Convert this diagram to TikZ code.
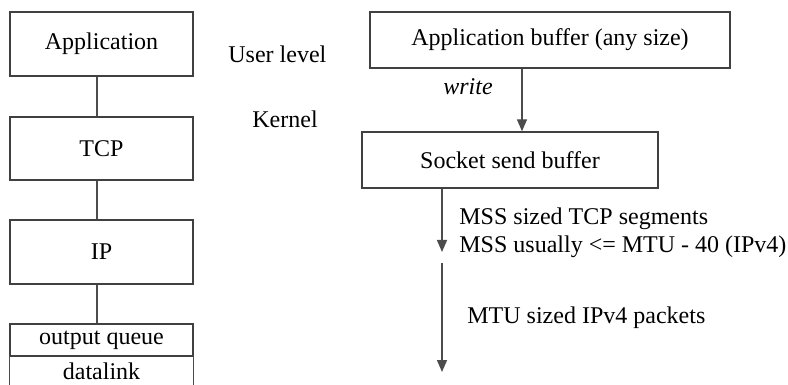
\documentclass[tikz,border=0pt]{standalone}
\usepackage{fontspec}
\setmainfont{Liberation Serif}
\usetikzlibrary{arrows.meta}
\begin{document}
\begin{tikzpicture}[x=0.5pt,y=-0.5pt,
  every node/.style={font=\fontsize{12}{14}\selectfont, inner sep=0pt, text=black},
  box/.style={draw=black!75, line width=0.7pt, minimum width=91.5pt},
  wire/.style={draw=black!70, line width=0.7pt},
  flow/.style={wire, -{Triangle[width=5pt,length=6pt]}},
  lbl/.style={anchor=base west}]
  \useasboundingbox (0,0) rectangle (788,385);

  % protocol stack on the left
  \node[box, minimum height=32pt] (app) at (101.5,44) {Application};
  \node[box, minimum height=31.5pt] (tcp) at (101.5,148.5) {TCP};
  \node[box, minimum height=32pt] (ip) at (101.5,252) {IP};
  \node[box, minimum height=16pt] (oq) at (101.5,340) {output queue};
  \node (dl) at (101.5,371) {datalink};
  \coordinate (dlbl) at (oq.south west |- 0,390);
  \coordinate (dlbr) at (oq.south east |- 0,390);
  \draw[wire, line cap=rect] (oq.south west) -- (dlbl);
  \draw[wire, line cap=rect] (oq.south east) -- (dlbr);

  \draw[wire] ([xshift=-2.25pt]app.south) -- ([xshift=-2.25pt]tcp.north);
  \draw[wire] ([xshift=-2.25pt]tcp.south) -- ([xshift=-2.25pt]ip.north);
  \draw[wire] ([xshift=-2.25pt]ip.south) -- ([xshift=-2.25pt]oq.north);

  % level labels
  \node[lbl] (user) at (228,63) {User level};
  \node[lbl] (kern) at (252,128) {Kernel};

  % buffers on the right
  \node[box, minimum width=180pt, minimum height=28pt] (appbuf) at (550,40) {Application buffer (any size)};
  \node[box, minimum width=148pt, minimum height=28pt] (sock) at (510,160) {Socket send buffer};

  \coordinate (wx) at (522,0);
  \draw[flow] (appbuf.south -| wx) -- (sock.north -| wx);
  \node[lbl] (write) at (443,95) {\itshape write};

  \coordinate (sx) at (442,0);
  \coordinate (segend) at (442,252);
  \coordinate (pktstart) at (442,263);
  \coordinate (pktend) at (442,372);
  \draw[flow] (sock.south -| sx) -- (segend);
  \draw[flow] (pktstart) -- (pktend);

  \node[lbl] (mss1) at (459,225) {MSS sized TCP segments};
  \node[lbl] (mss2) at (459,253) {MSS usually <= MTU - 40 (IPv4)};
  \node[lbl] (mtu) at (467,323) {MTU sized IPv4 packets};
\end{tikzpicture}
\end{document}
